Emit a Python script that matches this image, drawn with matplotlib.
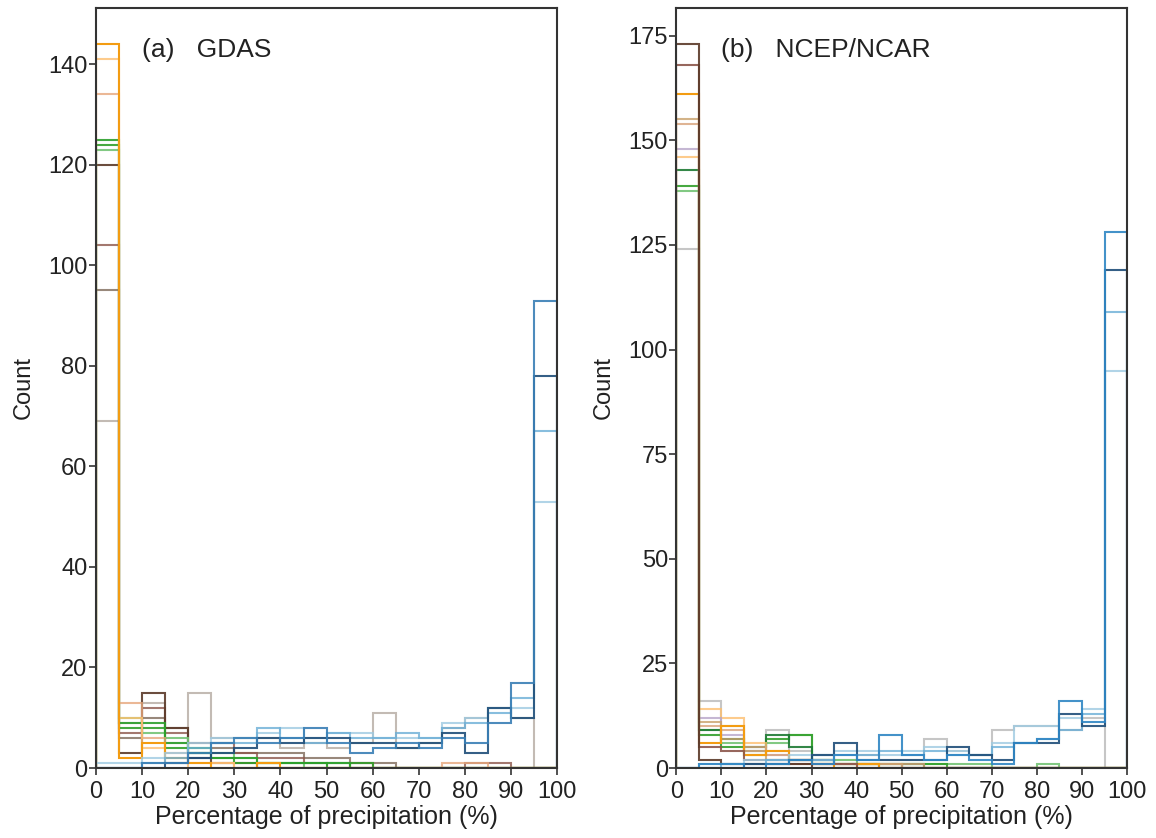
import numpy as np
import matplotlib
matplotlib.use('Agg')
import matplotlib.pyplot as plt

plt.rcParams['font.family'] = ['Liberation Sans', 'DejaVu Sans']

# bin edges: 0-100 % in steps of 5
bin_edges = np.arange(0, 105, 5)

# ---- (a) GDAS : one list of 20 bin counts per series ----
gdas_colors = ['#b5aaa2', '#7f6a5a', '#8c564b', '#5b3a29', '#74c476', '#33a02c', '#2ca02c',
               '#e6a77c', '#fdbf6f', '#f39c12', '#9ecae1', '#6baed6', '#1f4e79', '#3a7fb5']
gdas_alpha = [0.8, 0.8, 0.8, 0.9, 0.9, 0.9, 0.9, 0.8, 0.8, 1.0, 0.8, 0.8, 0.9, 0.9]
gdas_counts = [
    [69, 9, 13, 5, 15, 6, 6, 6, 4, 5, 4, 5, 11, 4, 5, 8, 10, 12, 10, 0],
    [95, 6, 10, 8, 3, 4, 3, 3, 3, 2, 2, 1, 1, 0, 0, 0, 0, 0, 0, 0],
    [104, 7, 12, 7, 5, 5, 3, 2, 2, 1, 1, 1, 0, 0, 0, 0, 1, 1, 0, 0],
    [120, 3, 15, 8, 2, 1, 1, 0, 0, 0, 0, 0, 0, 0, 0, 0, 0, 0, 0, 0],
    [123, 10, 7, 6, 3, 3, 2, 1, 1, 0, 1, 0, 0, 0, 0, 0, 0, 0, 0, 0],
    [124, 8, 8, 4, 3, 2, 1, 1, 1, 1, 0, 1, 0, 0, 0, 0, 0, 0, 0, 0],
    [125, 9, 9, 5, 4, 2, 2, 1, 1, 1, 1, 0, 0, 0, 0, 0, 0, 0, 0, 0],
    [134, 13, 6, 3, 1, 1, 0, 0, 0, 0, 0, 0, 0, 0, 0, 1, 1, 0, 0, 0],
    [141, 10, 4, 1, 0, 1, 0, 0, 0, 0, 0, 0, 0, 0, 0, 0, 0, 0, 0, 0],
    [144, 2, 5, 2, 1, 0, 0, 1, 0, 0, 0, 0, 0, 0, 0, 0, 0, 0, 0, 0],
    [1, 1, 2, 3, 5, 6, 6, 7, 8, 6, 7, 7, 6, 6, 6, 9, 10, 12, 12, 53],
    [0, 0, 1, 2, 4, 5, 5, 8, 6, 5, 7, 6, 6, 7, 6, 8, 9, 11, 14, 67],
    [0, 0, 0, 1, 2, 3, 4, 6, 5, 6, 6, 5, 5, 4, 5, 7, 3, 12, 10, 78],
    [0, 0, 1, 1, 3, 5, 6, 5, 6, 8, 5, 3, 4, 5, 4, 6, 5, 9, 17, 93],
]

# ---- (b) NCEP/NCAR ----
ncep_colors = ['#b8b8b8', '#74c476', '#33a02c', '#1e7a34', '#fdbf6f', '#b7a5c9', '#d8a27a',
               '#c9a06a', '#f39c12', '#8c564b', '#5b3a29', '#9ecae1', '#6baed6', '#1f4e79', '#2f86c4']
ncep_alpha = [0.8, 0.9, 0.9, 0.9, 0.8, 0.8, 0.8, 0.8, 1.0, 0.9, 0.9, 0.8, 0.8, 0.9, 0.9]
ncep_counts = [
    [124, 16, 10, 5, 9, 4, 3, 2, 3, 2, 2, 7, 4, 3, 9, 10, 10, 9, 12, 0],
    [138, 9, 6, 4, 6, 8, 2, 2, 1, 1, 1, 1, 1, 1, 0, 0, 1, 0, 0, 0],
    [139, 8, 5, 3, 7, 8, 2, 1, 1, 1, 1, 1, 0, 0, 0, 0, 0, 0, 0, 0],
    [143, 9, 7, 5, 8, 5, 2, 1, 1, 0, 1, 0, 0, 0, 0, 0, 0, 0, 0, 0],
    [146, 14, 12, 6, 4, 2, 1, 1, 1, 1, 0, 0, 0, 0, 0, 0, 0, 0, 0, 0],
    [148, 12, 8, 4, 3, 2, 2, 1, 1, 1, 0, 0, 0, 0, 0, 0, 0, 0, 0, 0],
    [154, 10, 9, 5, 3, 2, 1, 1, 1, 1, 1, 0, 0, 0, 0, 0, 0, 0, 0, 0],
    [155, 11, 7, 4, 2, 2, 1, 1, 1, 1, 0, 0, 0, 0, 0, 0, 0, 0, 0, 0],
    [161, 6, 10, 3, 4, 2, 1, 0, 1, 0, 0, 0, 0, 0, 0, 0, 0, 0, 0, 0],
    [168, 5, 4, 2, 2, 1, 1, 1, 0, 0, 0, 0, 0, 0, 0, 0, 0, 0, 0, 0],
    [173, 2, 1, 1, 1, 1, 0, 0, 0, 0, 0, 0, 0, 0, 0, 0, 0, 0, 0, 0],
    [0, 1, 1, 2, 2, 3, 3, 4, 4, 3, 4, 5, 4, 3, 6, 10, 10, 12, 14, 95],
    [0, 0, 1, 1, 2, 2, 2, 3, 3, 4, 3, 4, 3, 3, 5, 6, 7, 9, 13, 109],
    [0, 0, 0, 1, 1, 2, 3, 6, 2, 2, 2, 2, 5, 3, 2, 6, 6, 13, 10, 119],
    [0, 1, 1, 0, 1, 2, 1, 3, 2, 8, 3, 2, 3, 2, 1, 6, 7, 16, 11, 128],
]

panels = [
    ('(a)   GDAS', gdas_counts, gdas_colors, gdas_alpha, [0, 20, 40, 60, 80, 100, 120, 140]),
    ('(b)   NCEP/NCAR', ncep_counts, ncep_colors, ncep_alpha, [0, 25, 50, 75, 100, 125, 150, 175]),
]

fig = plt.figure(figsize=(11.56, 8.38), dpi=100)
ax_pos = [[0.083, 0.0835, 0.399, 0.907], [0.585, 0.0835, 0.390, 0.907]]

for pos, (label, counts, colors, alphas, yticks) in zip(ax_pos, panels):
    ax = fig.add_axes(pos)
    for vals, c, a in zip(counts, colors, alphas):
        ax.stairs(vals, bin_edges, baseline=0, color=c, alpha=a, linewidth=1.5)
    ax.set_xlim(0, 100)
    ax.set_ylim(0, max(max(v) for v in counts) * 1.05)
    ax.set_xticks(np.arange(0, 101, 10))
    ax.set_yticks(yticks)
    ax.tick_params(labelsize=17, length=5, width=1.2, color='#333333', labelcolor='#222222')
    ax.tick_params(axis='x', pad=4)
    ax.tick_params(axis='y', pad=1)
    for sp in ax.spines.values():
        sp.set_color('#333333')
        sp.set_linewidth(1.5)
    ax.set_xlabel('Percentage of precipitation (%)', fontsize=18, labelpad=2, color='#222222')
    ax.set_ylabel('Count', fontsize=17, labelpad=10, color='#222222')
    ax.text(0.10, 0.945, label, transform=ax.transAxes, fontsize=19, va='center', ha='left',
            color='#222222')

fig.savefig('out.png', dpi=100)
